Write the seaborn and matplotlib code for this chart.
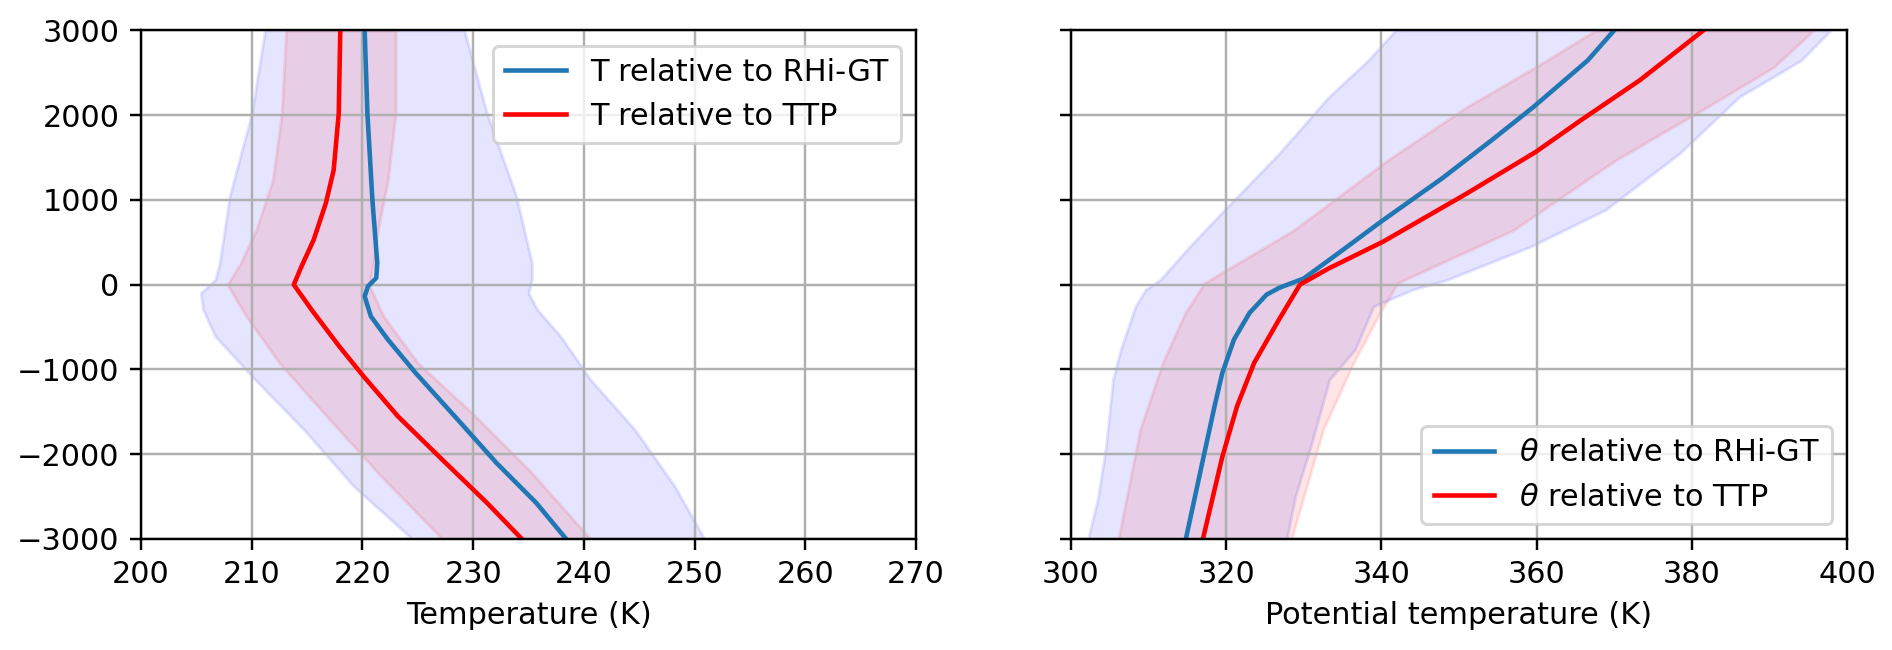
import numpy as np
import pandas as pd
import matplotlib
matplotlib.use("Agg")
import matplotlib.pyplot as plt
import seaborn as sns

# ---------------- Left panel data (Temperature) ----------------
T_blue_z = [3000, 2018, 1000, 255, 79, -20, -138, -373, -648, -1041, -1591, -2102, -2574, -3000]
T_blue_x = [220.2, 220.45, 220.9, 221.34, 221.25, 220.5, 220.2, 220.76, 222.3, 224.8, 228.6, 232.1, 235.7, 238.4]

T_red_z = [3000, 2018, 1350, 963, 530, 216, 0, -295, -727, -1081, -1552, -2063, -2574, -3000]
T_red_x = [218.0, 217.86, 217.4, 216.7, 215.6, 214.5, 213.8, 215.4, 217.9, 220.1, 223.2, 227.2, 231.25, 234.4]

T_bband_z = [3000, 2018, 1041, 255, 59, -98, -295, -609, -1120, -1709, -2377, -3000]
T_bband_lo = [211.2, 210.0, 208.0, 207.1, 206.7, 205.4, 205.6, 206.7, 210.3, 214.7, 219.2, 224.5]
T_bband_hi = [229.2, 231.25, 233.9, 235.3, 235.3, 235.0, 235.8, 237.9, 240.6, 244.6, 248.2, 250.9]

T_rband_z = [3000, 2018, 1237, 648, 255, 0, -373, -923, -1513, -2220, -3000]
T_rband_lo = [213.1, 212.7, 211.9, 210.4, 209.0, 207.8, 209.5, 212.5, 216.5, 221.4, 227.2]
T_rband_hi = [223.0, 223.0, 222.3, 221.4, 221.0, 220.6, 221.9, 225.0, 229.9, 235.3, 240.6]

# ---------------- Right panel data (Potential temperature) ----------------
th_blue_z = [3000, 2646, 2096, 1703, 1252, 760, 367, 73, -39, -118, -334, -648, -1041, -1434, -2108, -3000]
th_blue_x = [370.0, 366.6, 359.6, 354.2, 347.8, 340.2, 334.4, 330.0, 326.8, 325.2, 323.0, 321.0, 319.5, 318.5, 316.9, 314.8]

th_red_z = [3000, 2411, 1939, 1566, 1075, 506, 191, 0, -412, -923, -1434, -2030, -3000]
th_red_x = [381.5, 373.3, 365.7, 359.9, 351.0, 340.2, 333.2, 329.5, 326.8, 323.6, 321.4, 319.5, 317.0]

th_bband_z = [3000, 2646, 2214, 1546, 884, 452, 59, -59, -255, -766, -1120, -1906, -2500, -3000]
th_bband_lo = [341.8, 338.3, 333.2, 326.8, 319.8, 315.3, 311.5, 309.6, 308.3, 306.4, 305.4, 304.5, 303.5, 302.2]
th_bband_hi = [397.9, 394.1, 386.1, 378.4, 368.9, 359.3, 348.5, 344.0, 339.0, 336.6, 333.3, 330.9, 328.9, 327.8]

th_rband_z = [3000, 2568, 2096, 1468, 643, 20, -334, -923, -1709, -3000]
th_rband_lo = [367.6, 359.9, 351.0, 340.8, 328.7, 317.2, 314.7, 311.8, 308.9, 306.1]
th_rband_hi = [395.7, 390.6, 382.0, 370.2, 357.0, 342.1, 339.8, 336.4, 332.5, 328.4]

DPI = 219
plt.rcParams['font.size'] = 10
fig = plt.figure(figsize=(1892 / DPI, 650 / DPI), dpi=DPI)
ax1 = fig.add_axes([141 / 1892, 111 / 650, 775 / 1892, 508.7 / 650])
ax2 = fig.add_axes([1071 / 1892, 111 / 650, 776 / 1892, 508.7 / 650], sharey=ax1)

# left panel
ax1.fill_betweenx(T_bband_z, T_bband_lo, T_bband_hi, color='blue', alpha=0.1)
ax1.fill_betweenx(T_rband_z, T_rband_lo, T_rband_hi, color='red', alpha=0.1)
sns.lineplot(x=T_blue_x, y=T_blue_z, orient='y', ax=ax1, color='#1f77b4', lw=1.5,
             label='T relative to RHi-GT')
sns.lineplot(x=T_red_x, y=T_red_z, orient='y', ax=ax1, color='red', lw=1.5,
             label='T relative to TTP')
ax1.set_xlim(200, 270)
ax1.set_ylim(-3000, 3000)
ax1.set_yticks(np.arange(-3000, 3001, 1000))
ax1.set_xticks(np.arange(200, 271, 10))
ax1.set_xlabel('Temperature (K)')
ax1.grid(True)
ax1.legend(loc='upper right')

# right panel
ax2.fill_betweenx(th_bband_z, th_bband_lo, th_bband_hi, color='blue', alpha=0.1)
ax2.fill_betweenx(th_rband_z, th_rband_lo, th_rband_hi, color='red', alpha=0.1)
sns.lineplot(x=th_blue_x, y=th_blue_z, orient='y', ax=ax2, color='#1f77b4', lw=1.5,
             label=r'$\theta$ relative to RHi-GT')
sns.lineplot(x=th_red_x, y=th_red_z, orient='y', ax=ax2, color='red', lw=1.5,
             label=r'$\theta$ relative to TTP')
ax2.set_xlim(300, 400)
ax2.set_xticks(np.arange(300, 401, 20))
ax2.set_xlabel('Potential temperature (K)')
ax2.tick_params(labelleft=False)
ax2.grid(True)
ax2.legend(loc='lower right')

fig.savefig('out.png', dpi=DPI)
